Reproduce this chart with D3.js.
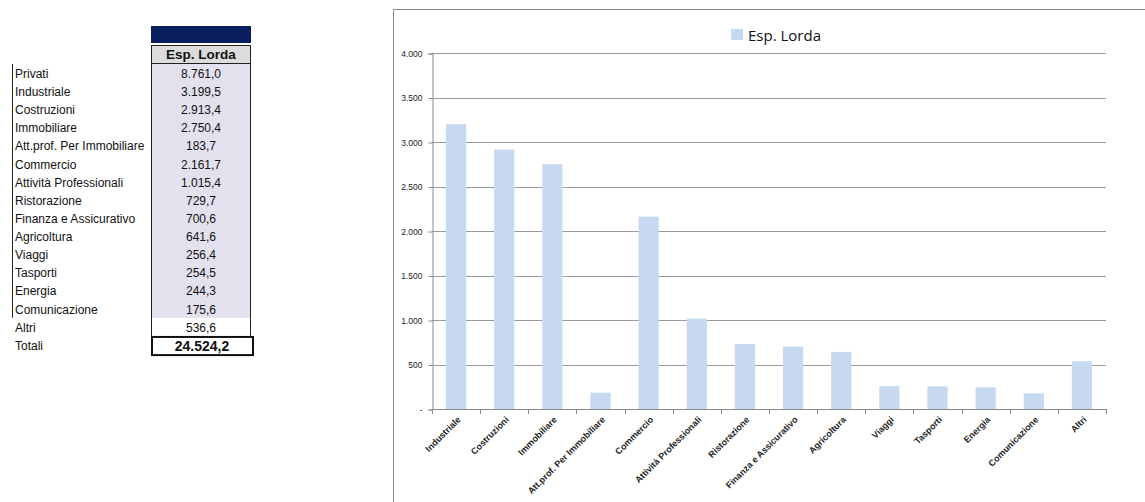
<!DOCTYPE html>
<html><head><meta charset="utf-8">
<script src="https://cdn.jsdelivr.net/npm/d3@7"></script>
<style>
html,body{margin:0;padding:0;background:#fff;}
svg{display:block;}
</style></head>
<body>
<svg id="c" width="1145" height="502"></svg>
<script>
// ---- data ----
const tableLabels = ["Privati","Industriale","Costruzioni","Immobiliare","Att.prof. Per Immobiliare","Commercio","Attività Professionali","Ristorazione","Finanza e Assicurativo","Agricoltura","Viaggi","Tasporti","Energia","Comunicazione"];
const tableValues = [8761.0,3199.5,2913.4,2750.4,183.7,2161.7,1015.4,729.7,700.6,641.6,256.4,254.5,244.3,175.6];
const otherLabel = "Altri";
const otherValue = 536.6;
const totalLabel = "Totali";
const totalValue = 24524.2;
const seriesName = "Esp. Lorda";
const chartCategories = ["Industriale","Costruzioni","Immobiliare","Att.prof. Per Immobiliare","Commercio","Attività Professionali","Ristorazione","Finanza e Assicurativo","Agricoltura","Viaggi","Tasporti","Energia","Comunicazione","Altri"];
const chartValues = [3199.5,2913.4,2750.4,183.7,2161.7,1015.4,729.7,700.6,641.6,256.4,254.5,244.3,175.6,536.6];
const yTicks = [0,500,1000,1500,2000,2500,3000,3500,4000];

const loc = d3.formatLocale({decimal:",",thousands:".",grouping:[3],currency:["€",""]});
const f1 = loc.format(",.1f"), f0 = loc.format(",.0f");

const svg = d3.select("#c");

// ---- table ----
const tFont = "'Liberation Sans', Arial, sans-serif";
const rowH = 18.13, row0 = 64;
const colL = 151, colR = 251, labX = 15;
const t = svg.append("g");
t.append("rect").attr("x",colL).attr("y",26).attr("width",colR-colL).attr("height",17).attr("fill","#0a1f5e");
t.append("rect").attr("x",colL+0.5).attr("y",45.5).attr("width",colR-colL-1).attr("height",row0-46).attr("fill","#dcdcdc").attr("stroke","#222").attr("stroke-width",1);
t.append("text").attr("x",(colL+colR)/2).attr("y",58.5).attr("text-anchor","middle")
  .attr("font-family",tFont).attr("font-weight","bold").attr("font-size",13.5).attr("fill","#111").text(seriesName);
const nRows = tableLabels.length;
t.append("rect").attr("x",colL).attr("y",row0).attr("width",colR-colL).attr("height",rowH*nRows).attr("fill","#e4e1ee");
t.append("line").attr("x1",colL+0.5).attr("x2",colL+0.5).attr("y1",row0).attr("y2",row0+rowH*(nRows+1)).attr("stroke","#222");
t.append("line").attr("x1",colR-0.5).attr("x2",colR-0.5).attr("y1",row0).attr("y2",row0+rowH*(nRows+1)).attr("stroke","#222");
t.append("line").attr("x1",12.5).attr("x2",12.5).attr("y1",row0).attr("y2",row0+rowH*nRows).attr("stroke","#222");
tableLabels.forEach((l,i)=>{
  const cy = row0 + rowH*i + rowH/2 + 4.8;
  t.append("text").attr("x",labX).attr("y",cy).attr("font-family",tFont).attr("font-size",12).attr("fill","#111").text(l);
  t.append("text").attr("x",(colL+colR)/2).attr("y",cy).attr("text-anchor","middle").attr("font-family",tFont).attr("font-size",12).attr("fill","#111").text(f1(tableValues[i]));
});
{
  const cy = row0 + rowH*nRows + rowH/2 + 4.8;
  t.append("text").attr("x",labX).attr("y",cy).attr("font-family",tFont).attr("font-size",12).attr("fill","#111").text(otherLabel);
  t.append("text").attr("x",(colL+colR)/2).attr("y",cy).attr("text-anchor","middle").attr("font-family",tFont).attr("font-size",12).attr("fill","#111").text(f1(otherValue));
  const ty = row0 + rowH*(nRows+1);
  t.append("rect").attr("x",colL+1).attr("y",ty+1).attr("width",colR-colL+1).attr("height",rowH).attr("fill","#fff").attr("stroke","#111").attr("stroke-width",2);
  t.append("text").attr("x",labX).attr("y",ty+rowH/2+4.8).attr("font-family",tFont).attr("font-size",12).attr("fill","#111").text(totalLabel);
  t.append("text").attr("x",(colL+colR)/2+1).attr("y",ty+rowH/2+5.8).attr("text-anchor","middle").attr("font-family",tFont).attr("font-weight","bold").attr("font-size",14).attr("fill","#111").text(f1(totalValue));
}

// ---- chart ----
const cFont = "'Liberation Sans', Arial, sans-serif";
svg.append("rect").attr("x",393.5).attr("y",9.5).attr("width",800).attr("height",520).attr("fill","#fff").attr("stroke","#8a8a8a");

const x0 = 432, x1 = 1106, yTop = 53, yBot = 409;
const x = d3.scaleBand().domain(chartCategories).range([x0,x1]).paddingInner(0.58).paddingOuter(0.29);
const y = d3.scaleLinear().domain([0,4000]).range([yBot,yTop]);

const g = svg.append("g");
// gridlines
g.selectAll("line.grid").data(yTicks.filter(d=>d>0)).join("line")
  .attr("x1",x0).attr("x2",x1).attr("y1",d=>Math.round(y(d))+0.5).attr("y2",d=>Math.round(y(d))+0.5)
  .attr("stroke","#9a9a9a").attr("stroke-width",1);
// bars
g.selectAll("rect.bar").data(chartValues).join("rect")
  .attr("x",(d,i)=>x(chartCategories[i])).attr("width",x.bandwidth())
  .attr("y",d=>y(d)).attr("height",d=>yBot-y(d)).attr("fill","#c6d9f1");
// y axis
const yAxis = d3.axisLeft(y).tickValues(yTicks).tickSize(4).tickPadding(6).tickFormat(d=>d===0?"-":f0(d));
const ya = g.append("g").attr("transform",`translate(${x0+0.5},0.5)`).call(yAxis);
ya.select(".domain").attr("stroke","#8a8a8a");
ya.selectAll(".tick line").attr("stroke","#8a8a8a");
ya.selectAll("text").attr("font-family",cFont).attr("font-size",8.5).attr("fill","#222");
// x axis baseline and ticks at category boundaries
g.append("line").attr("x1",x0).attr("x2",x1).attr("y1",yBot+0.5).attr("y2",yBot+0.5).attr("stroke","#8a8a8a");
const step = x.step();
g.selectAll("line.xt").data(d3.range(chartCategories.length+1)).join("line")
  .attr("x1",i=>Math.round(x0+i*step)+0.5).attr("x2",i=>Math.round(x0+i*step)+0.5)
  .attr("y1",yBot).attr("y2",yBot+5).attr("stroke","#8a8a8a");
g.selectAll("text.xl").data(chartCategories).join("text")
  .attr("transform",d=>`translate(${x(d)+x.bandwidth()/2+3},${yBot+9}) rotate(-45)`)
  .attr("text-anchor","end").attr("dy","0.35em")
  .attr("font-family",cFont).attr("font-weight","bold").attr("font-size",9).attr("fill","#222").text(d=>d);

// legend
svg.append("rect").attr("x",731).attr("y",29).attr("width",12).attr("height",11).attr("fill","#c6d9f1");
svg.append("text").attr("x",748).attr("y",41).attr("font-family","'Open Sans', 'Liberation Sans', sans-serif").attr("font-size",15).attr("fill","#111").text(seriesName);
</script>
</body></html>
